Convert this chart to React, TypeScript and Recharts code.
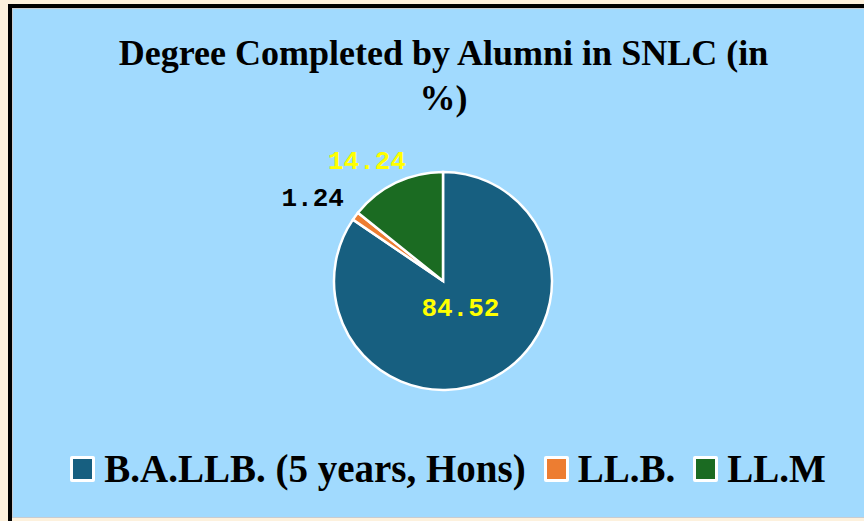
import React from 'react';
import { PieChart, Pie, Cell, Legend } from 'recharts';

const categories = ['B.A.LLB. (5 years, Hons)', 'LL.B.', 'LL.M'];
const percentages = [84.52, 1.24, 14.24];
const valueLabels = ['84.52', '1.24', '14.24'];
const titleLines = ['Degree Completed by Alumni in SNLC (in', '%)'];

const sliceColors = ['#175f80', '#ed7d31', '#1b6b22'];
const labelColors = ['#ffff00', '#000000', '#ffff00'];
const labelRadius = [33, 154, 141];
const labelAngleShift = [4, 4.3, 7];

const data = categories.map((name, i) => ({ name, value: percentages[i], label: valueLabels[i] }));

const RAD = Math.PI / 180;

const renderLabel = (props: any) => {
  const { cx, cy, midAngle, index } = props;
  const a = (midAngle + labelAngleShift[index]) * RAD;
  const r = labelRadius[index];
  const x = cx + r * Math.cos(-a);
  const y = cy + r * Math.sin(-a);
  return (
    <text
      x={x}
      y={y}
      fill={labelColors[index]}
      textAnchor="middle"
      dominantBaseline="central"
      style={{ fontFamily: '"Liberation Mono", "Courier New", monospace', fontWeight: 700, fontSize: 26 }}
    >
      {valueLabels[index]}
    </text>
  );
};

const renderLegend = () => (
  <div
    style={{
      display: 'flex',
      justifyContent: 'center',
      alignItems: 'center',
      paddingLeft: 19,
      fontFamily: '"Liberation Serif", "Times New Roman", serif',
      fontWeight: 700,
      fontSize: 39,
      lineHeight: '40px',
      color: '#000',
    }}
  >
    {categories.map((c, i) => (
      <div key={c} style={{ display: 'flex', alignItems: 'center', marginRight: i < categories.length - 1 ? 18 : 0 }}>
        <div
          style={{
            width: 19,
            height: 20,
            background: sliceColors[i],
            border: '3px solid #ffffff',
            borderRadius: 2,
            marginRight: 9,
          }}
        />
        <span style={{ whiteSpace: 'nowrap' }}>{c}</span>
      </div>
    ))}
  </div>
);

export default function App() {
  return (
    <div style={{ position: 'fixed', left: 0, top: 0, width: 864, height: 521, background: '#fdf1dd', overflow: 'hidden' }}>
      <div style={{ position: 'absolute', left: 8, top: 4, width: 856, height: 517, background: '#000' }} />
      <div style={{ position: 'absolute', left: 12, top: 8, width: 852, height: 510, background: '#c9ccd0' }} />
      <div style={{ position: 'absolute', left: 12, top: 518, width: 852, height: 3, background: '#fdf1dd' }} />
      <div style={{ position: 'absolute', left: 13, top: 9, width: 851, height: 508, background: '#a1dafe' }}>
        <PieChart width={851} height={508} margin={{ top: 0, right: 0, bottom: 0, left: 0 }}>
          <Pie
            data={data}
            dataKey="value"
            nameKey="name"
            cx={430}
            cy={272}
            outerRadius={109}
            startAngle={90}
            endAngle={-270}
            stroke="#ffffff"
            strokeWidth={2.5}
            label={renderLabel}
            labelLine={false}
            isAnimationActive={false}
          >
            {data.map((d, i) => (
              <Cell key={d.name} fill={sliceColors[i]} />
            ))}
          </Pie>
          <Legend content={renderLegend} wrapperStyle={{ position: 'absolute', left: 0, top: 440, width: 851 }} />
        </PieChart>
        <div
          style={{
            position: 'absolute',
            left: 0,
            top: 0,
            width: 851,
            textAlign: 'center',
            fontFamily: '"Liberation Serif", "Times New Roman", serif',
            fontWeight: 700,
            fontSize: 36,
            color: '#000',
            pointerEvents: 'none',
          }}
        >
          {titleLines.map((t, i) => (
            <div key={i} style={{ position: 'absolute', left: 0, width: 851, top: 26 + i * 45, lineHeight: '36px', paddingLeft: 10, boxSizing: 'border-box' }}>
              {t}
            </div>
          ))}
        </div>
      </div>
    </div>
  );
}
